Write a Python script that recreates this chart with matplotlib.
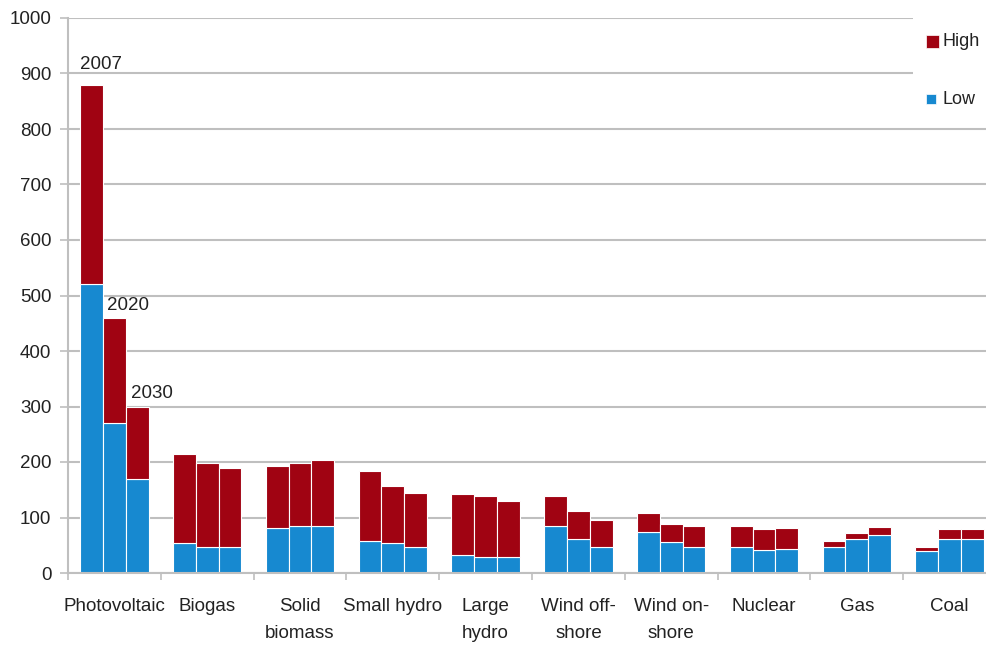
import numpy as np
import matplotlib.pyplot as plt
from matplotlib.patches import Rectangle

plt.rcParams["font.family"] = ["Liberation Sans", "DejaVu Sans"]

categories = ["Photovoltaic", "Biogas", "Solid\nbiomass", "Small hydro", "Large\nhydro",
              "Wind off-\nshore", "Wind on-\nshore", "Nuclear", "Gas", "Coal"]
years = ["2007", "2020", "2030"]
series = ["High", "Low"]

# low estimate and high estimate (top of bar) per year
low_2007 = [520, 54, 81, 57, 32, 84, 73, 46, 47, 40]
low_2020 = [270, 47, 85, 54, 28, 61, 55, 41, 61, 61]
low_2030 = [170, 47, 85, 47, 28, 46, 46, 43, 69, 61]
high_2007 = [880, 214, 192, 184, 142, 139, 109, 84, 58, 47]
high_2020 = [460, 198, 198, 157, 139, 112, 88, 79, 72, 79]
high_2030 = [300, 189, 204, 144, 129, 96, 85, 81, 82, 79]

low = [low_2007, low_2020, low_2030]
high = [high_2007, high_2020, high_2030]

red = "#A00312"
blue = "#1789D0"
grey = "#BFBFBF"
txt = "#222222"

fig = plt.figure(figsize=(9.86, 6.47), dpi=100)
ax = fig.add_axes([68 / 986, 74 / 647, 928 / 986, 555 / 647])

x = np.arange(len(categories))
w = 0.245
offsets = [-w, 0, w]
for k in range(3):
    lo = np.array(low[k])
    hi = np.array(high[k])
    ax.bar(x + offsets[k], lo, width=w, color=blue, edgecolor="white", linewidth=0.8, zorder=2)
    ax.bar(x + offsets[k], hi - lo, bottom=lo, width=w, color=red, edgecolor="white",
           linewidth=0.8, zorder=2)

# year labels above the photovoltaic bars
label_dy = [8, 3, 3]
label_dx = [0, 3, 4]
for k in range(3):
    ax.annotate(years[k], xy=(x[0] + offsets[k] - w / 2, high[k][0]),
                xytext=(label_dx[k], label_dy[k]), textcoords="offset points",
                ha="left", va="bottom", fontsize=13.5, color=txt, zorder=3)

ax.set_xlim(-0.5, 9.5)
ax.set_ylim(0, 1000)
ax.set_yticks(np.arange(0, 1001, 100))
ax.yaxis.grid(True, color=grey, linewidth=1.5, zorder=0)
ax.set_axisbelow(True)

ax.set_xticks(x)
ax.set_xticklabels(categories, fontsize=13.5, color=txt, linespacing=1.75)
ax.set_xticks(np.arange(-0.5, 10, 1), minor=True)
ax.tick_params(axis="x", which="major", length=0, pad=18)
ax.tick_params(axis="x", which="minor", length=5, color=grey, width=1.2)
ax.tick_params(axis="y", length=6, color=grey, width=1.2, labelsize=13.5,
               labelcolor=txt, pad=6)

for s in ["top", "right"]:
    ax.spines[s].set_visible(False)
for s in ["left", "bottom"]:
    ax.spines[s].set_color(grey)
    ax.spines[s].set_linewidth(1.5)

# legend box in the top right corner (covers the top gridlines)
W, H = 986, 647
fig.patches.append(Rectangle((913 / W, 1 - 115 / H), 73 / W, 115 / H,
                             transform=fig.transFigure, facecolor="white",
                             edgecolor="none", zorder=5))
fig.patches.append(Rectangle((926 / W, 1 - 48 / H), 13 / W, 13 / H,
                             transform=fig.transFigure, facecolor=red,
                             edgecolor="white", linewidth=0.5, zorder=6))
fig.patches.append(Rectangle((926 / W, 1 - 104 / H), 10 / W, 10 / H,
                             transform=fig.transFigure, facecolor=blue,
                             edgecolor="white", linewidth=0.5, zorder=6))
fig.text(942 / W, 1 - 41 / H, series[0], fontsize=13, color=txt, ha="left",
         va="center", zorder=7)
fig.text(942 / W, 1 - 99 / H, series[1], fontsize=13, color=txt, ha="left",
         va="center", zorder=7)

fig.savefig("out.png", dpi=100)
